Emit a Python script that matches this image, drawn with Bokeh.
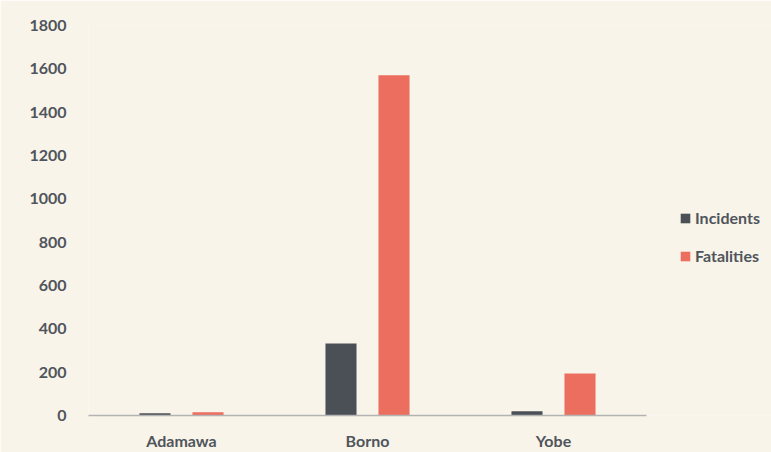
from bokeh.plotting import figure
from bokeh.models import ColumnDataSource, Legend, LegendItem, Range1d
from bokeh.transform import dodge
from bokeh.embed import file_html
from bokeh.resources import INLINE

states = ["Adamawa", "Borno", "Yobe"]
incidents = [10, 332, 20]
fatalities = [15, 1570, 194]
y_ticks = [0, 200, 400, 600, 800, 1000, 1200, 1400, 1600, 1800]

BG = "#f8f4ea"
TXT = "#50545b"
C_INC = "#4b4f56"
C_FAT = "#eb6e5e"
FONT = "Lato"
FS = "16px"

idx = list(range(len(states)))
src = ColumnDataSource(dict(idx=idx, state=states, inc=incidents, fat=fatalities))

# frame spans 88..771 px; one category = 186 px, first category centred 93 px from the left
p = figure(x_range=Range1d(-0.5, -0.5 + 683 / 186), y_range=(0, 1800),
           width=771, height=452, output_backend="svg", toolbar_location=None,
           min_border_left=88, min_border_right=0, min_border_top=25, min_border_bottom=37)
p.background_fill_color = BG
p.border_fill_color = BG
p.outline_line_color = None
p.grid.grid_line_color = None

r1 = p.vbar(x=dodge("idx", -0.1425), top="inc", width=0.167,
            source=src, fill_color=C_INC, line_color=None)
r2 = p.vbar(x=dodge("idx", 0.1425), top="fat", width=0.167,
            source=src, fill_color=C_FAT, line_color=None)

p.yaxis.ticker = y_ticks
p.yaxis.axis_line_color = None
p.yaxis.major_tick_line_color = None
p.yaxis.minor_tick_line_color = None
p.yaxis.major_tick_out = 0
p.yaxis.major_label_standoff = 22
p.yaxis.major_label_text_font = FONT
p.yaxis.major_label_text_font_style = "bold"
p.yaxis.major_label_text_font_size = FS
p.yaxis.major_label_text_color = TXT

p.xaxis.ticker = idx
p.xaxis.major_label_overrides = {i: s for i, s in zip(idx, states)}
p.xaxis.bounds = (-0.5, len(states) - 0.5)
p.xaxis.axis_line_color = "#b3b3b3"
p.xaxis.axis_line_width = 1.5
p.xaxis.major_tick_line_color = None
p.xaxis.minor_tick_line_color = None
p.xaxis.major_tick_out = 0
p.xaxis.major_label_standoff = 15
p.xaxis.major_label_text_font = FONT
p.xaxis.major_label_text_font_style = "bold"
p.xaxis.major_label_text_font_size = FS
p.xaxis.major_label_text_color = TXT

legend = Legend(items=[LegendItem(label="Incidents", renderers=[r1]),
                       LegendItem(label="Fatalities", renderers=[r2])],
                location=(591, 150))
legend.background_fill_alpha = 0
legend.border_line_color = None
legend.glyph_width = 12
legend.glyph_height = 12
legend.label_standoff = 4
legend.spacing = 19
legend.padding = 0
legend.margin = 0
legend.label_text_font = FONT
legend.label_text_font_style = "bold"
legend.label_text_font_size = FS
legend.label_text_color = TXT
p.add_layout(legend, "center")

open("out.html", "w").write(file_html(p, INLINE))
